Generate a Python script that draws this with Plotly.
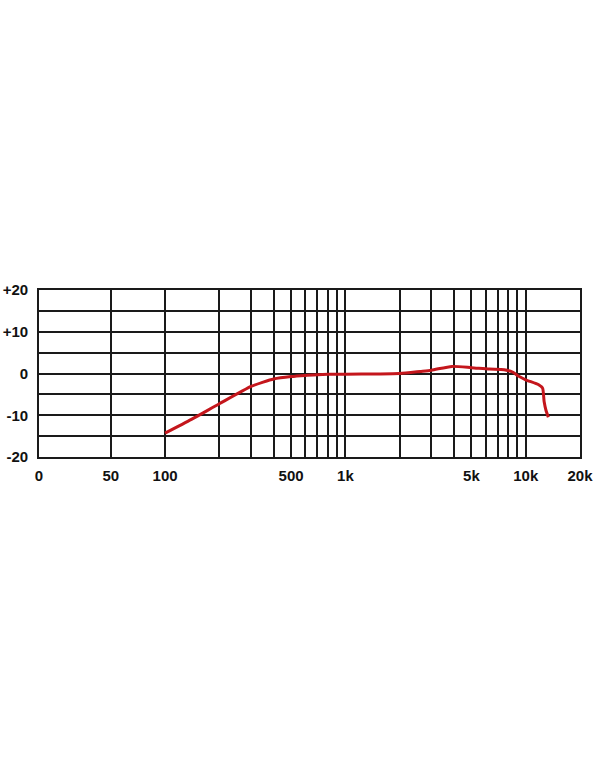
import plotly.graph_objects as go

freq_hz = [100, 140, 200, 300, 350, 400, 500, 600, 700, 800, 1000, 1500, 2000,
           2600, 3000, 3900, 5000, 6300, 7600, 8500, 9100, 10000, 11800, 12400, 12650, 12950, 13350]
response_db = [-14.3, -11.0, -7.25, -3.1, -2.05, -1.3, -0.72, -0.45, -0.3, -0.2, -0.15, -0.1, 0.0,
               0.5, 0.8, 1.7, 1.4, 1.05, 0.9, 0.3, -0.6, -1.5, -2.7, -3.5, -6.7, -8.8, -10.5]

x_grid = [20, 50, 100, 200, 300, 400, 500, 600, 700, 800, 900, 1000,
          2000, 3000, 4000, 5000, 6000, 7000, 8000, 9000, 10000, 20000]
x_labels = ["0", "50", "100", "", "", "", "500", "", "", "", "", "1k",
            "", "", "", "5k", "", "", "", "", "10k", "20k"]
y_grid = [-20, -15, -10, -5, 0, 5, 10, 15, 20]
y_labels = ["-20", "", "-10", "", "0", "", "+10", "", "+20"]

fig = go.Figure()
fig.add_trace(go.Scatter(
    x=freq_hz, y=response_db, mode="lines",
    line=dict(color="#c4161c", width=3, shape="spline", smoothing=0.6),
    hoverinfo="skip", showlegend=False,
))

tick_font = dict(family="Liberation Sans, Arial, sans-serif", size=15, color="#111111", weight="bold")

fig.update_xaxes(
    type="log", range=[1.30103, 4.30103],
    tickmode="array", tickvals=x_grid, ticktext=x_labels,
    showgrid=True, gridcolor="#1a1a1a", gridwidth=1.6,
    showline=True, linecolor="#1a1a1a", linewidth=1.6, mirror=True,
    ticks="", tickfont=tick_font, zeroline=False, automargin=False,
    ticklabelstandoff=4,
)
fig.update_yaxes(
    range=[-20, 20],
    tickmode="array", tickvals=y_grid, ticktext=y_labels,
    showgrid=True, gridcolor="#1a1a1a", gridwidth=1.6,
    showline=True, linecolor="#1a1a1a", linewidth=1.6, mirror=True,
    ticks="", tickfont=tick_font, zeroline=False, automargin=False,
    ticklabelstandoff=6,
)

fig.update_layout(
    width=600, height=766,
    margin=dict(l=39, r=20, t=290, b=309),
    plot_bgcolor="white", paper_bgcolor="white",
)

fig.write_html(
    "out.html",
    config={"displayModeBar": False},
    post_script="document.body.style.margin='0px';document.body.style.overflow='hidden';",
)
